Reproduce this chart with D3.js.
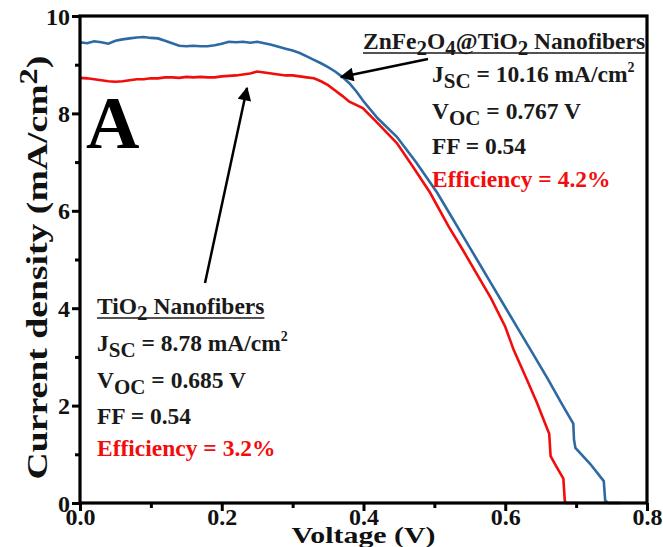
<!DOCTYPE html>
<html>
<head>
<meta charset="utf-8">
<script src="https://cdn.jsdelivr.net/npm/d3@7"></script>
<style>
  body { margin: 0; background: #fff; }
  svg text { font-family: "Liberation Serif", "Times New Roman", serif; font-weight: bold; }
</style>
</head>
<body>
<div id="chart"></div>
<script>
// ZnFe2O4@TiO2 nanofibers (blue)
var blueV = [0.000, 0.010, 0.020, 0.030, 0.040, 0.050, 0.060, 0.070, 0.080, 0.090,
             0.100, 0.110, 0.120, 0.130, 0.140, 0.150, 0.160, 0.170, 0.180, 0.190,
             0.200, 0.210, 0.220, 0.230, 0.240, 0.250, 0.260, 0.270, 0.280, 0.290,
             0.300, 0.310, 0.320, 0.330, 0.340, 0.350, 0.360, 0.370, 0.380, 0.390,
             0.400, 0.420, 0.447, 0.475, 0.504, 0.520, 0.540, 0.560, 0.580, 0.600,
             0.620, 0.636, 0.660, 0.680, 0.696, 0.697, 0.699, 0.720, 0.739, 0.741,
             0.745, 0.763];
var blueJ = [9.46, 9.44, 9.48, 9.46, 9.43, 9.49, 9.52, 9.54, 9.56, 9.57,
             9.55, 9.54, 9.49, 9.44, 9.39, 9.38, 9.39, 9.38, 9.38, 9.40,
             9.43, 9.47, 9.46, 9.47, 9.45, 9.47, 9.44, 9.41, 9.37, 9.33,
             9.29, 9.24, 9.17, 9.10, 9.03, 8.95, 8.86, 8.75, 8.62, 8.45,
             8.25, 7.90, 7.52, 6.98, 6.37, 5.98, 5.49, 5.00, 4.51, 4.02,
             3.53, 3.14, 2.55, 2.03, 1.63, 1.30, 1.13, 0.80, 0.45, 0.05,
             0.00, 0.00];
// TiO2 nanofibers (red)
var redV = [0.000, 0.010, 0.020, 0.030, 0.040, 0.050, 0.060, 0.070, 0.080, 0.090,
            0.100, 0.110, 0.120, 0.130, 0.140, 0.150, 0.160, 0.170, 0.180, 0.190,
            0.200, 0.210, 0.220, 0.230, 0.240, 0.250, 0.260, 0.270, 0.280, 0.290,
            0.300, 0.310, 0.320, 0.330, 0.340, 0.350, 0.360, 0.370, 0.380, 0.399,
            0.420, 0.447, 0.470, 0.494, 0.520, 0.540, 0.560, 0.580, 0.600, 0.612,
            0.630, 0.645, 0.662, 0.664, 0.672, 0.682, 0.684, 0.686, 0.703];
var redJ = [8.73, 8.72, 8.70, 8.68, 8.66, 8.65, 8.66, 8.68, 8.70, 8.70,
            8.72, 8.72, 8.74, 8.74, 8.73, 8.75, 8.74, 8.75, 8.74, 8.74,
            8.76, 8.77, 8.78, 8.80, 8.82, 8.86, 8.84, 8.82, 8.80, 8.78,
            8.78, 8.76, 8.74, 8.72, 8.66, 8.58, 8.47, 8.36, 8.24, 8.11,
            7.80, 7.39, 6.90, 6.37, 5.68, 5.20, 4.70, 4.20, 3.62, 3.14,
            2.55, 2.05, 1.42, 0.96, 0.75, 0.50, 0.05, 0.00, 0.00];

var xMajor = [0.0, 0.2, 0.4, 0.6, 0.8];
var xMinor = [0.1, 0.3, 0.5, 0.7];
var yMajor = [0, 2, 4, 6, 8, 10];
var yMinor = [1, 3, 5, 7, 9];

var width = 663, height = 547;
var margin = { top: 16, right: 16, bottom: 44, left: 80 };

var svg = d3.select("#chart").append("svg")
    .attr("width", width)
    .attr("height", height);

var x = d3.scaleLinear().domain([0, 0.8]).range([margin.left, width - margin.right]);
var y = d3.scaleLinear().domain([0, 10]).range([height - margin.bottom, margin.top]);

// curves
var line = d3.line().x(d => x(d[0])).y(d => y(d[1]));
svg.append("path")
    .datum(d3.zip(redV, redJ))
    .attr("d", line)
    .attr("fill", "none")
    .attr("stroke", "#f20d0d")
    .attr("stroke-width", 2.6);
svg.append("path")
    .datum(d3.zip(blueV, blueJ))
    .attr("d", line)
    .attr("fill", "none")
    .attr("stroke", "#2d6aa3")
    .attr("stroke-width", 2.6);

// axes
var xAxis = svg.append("g")
    .attr("transform", "translate(0," + y(0) + ")")
    .call(d3.axisBottom(x).tickValues(xMajor).tickSize(8).tickFormat(d3.format(".1f")));
svg.append("g")
    .attr("transform", "translate(0," + y(0) + ")")
    .call(d3.axisBottom(x).tickValues(xMinor).tickSize(5).tickFormat(""));
var yAxis = svg.append("g")
    .attr("transform", "translate(" + x(0) + ",0)")
    .call(d3.axisLeft(y).tickValues(yMajor).tickSize(8).tickFormat(d3.format("d")));
svg.append("g")
    .attr("transform", "translate(" + x(0) + ",0)")
    .call(d3.axisLeft(y).tickValues(yMinor).tickSize(5).tickFormat(""));

svg.selectAll(".domain").remove();
svg.selectAll(".tick line").attr("stroke", "#000").attr("stroke-width", 3);
svg.selectAll(".tick text").attr("fill", "#111").style("font-size", "24px");
xAxis.selectAll(".tick text").attr("y", 8).attr("dy", "0.58em");
yAxis.selectAll(".tick text").attr("dy", "0.34em").attr("x", -10);

// frame
svg.append("rect")
    .attr("x", x(0)).attr("y", y(10))
    .attr("width", x(0.8) - x(0)).attr("height", y(0) - y(10))
    .attr("fill", "none").attr("stroke", "#000").attr("stroke-width", 3.2);

// axis titles
svg.append("text")
    .attr("transform", "translate(" + ((x(0) + x(0.8)) / 2) + "," + (height - 4) + ") scale(1.3,0.97)")
    .attr("text-anchor", "middle")
    .style("font-size", "23px")
    .attr("fill", "#111")
    .text("Voltage (V)");

var yl = svg.append("text")
    .attr("transform", "translate(47," + ((y(0) + y(10)) / 2 + 8) + ") rotate(-90) scale(1.3,1)")
    .attr("text-anchor", "middle")
    .style("font-size", "29px")
    .attr("fill", "#111");
yl.append("tspan").text("Current density (mA/cm");
yl.append("tspan").attr("dy", -10).style("font-size", "25px").text("2");
yl.append("tspan").attr("dy", 10).text(")");

// panel letter
svg.append("text")
    .attr("x", 86).attr("y", 148)
    .style("font-size", "74px")
    .attr("fill", "#000")
    .text("A");

// annotation helper
function label(xp, yp, parts, color) {
    var t = svg.append("text").attr("x", xp).attr("y", yp)
        .attr("fill", color || "#1a1a1a").style("font-size", "23.5px");
    parts.forEach(function (p) {
        var s = t.append("tspan").text(p[0]);
        if (p[1] == "sub") s.attr("dy", 6).style("font-size", "21px");
        else if (p[1] == "sup") s.attr("dy", -10).style("font-size", "14px");
        else if (p[1] == "back") s.attr("dy", p[2]);
    });
    return t;
}
function underline(t) {
    var b = t.node().getBBox();
    svg.append("line")
        .attr("x1", b.x).attr("x2", b.x + b.width)
        .attr("y1", +t.attr("y") + 4).attr("y2", +t.attr("y") + 4)
        .attr("stroke", "#1a1a1a").attr("stroke-width", 1.6);
}

var t1 = label(363, 49, [["ZnFe"], ["2", "sub"], ["O", "back", -6], ["4", "sub"], ["@TiO", "back", -6], ["2", "sub"], [" Nanofibers", "back", -6]]);
underline(t1);
label(432, 82, [["J"], ["SC", "sub"], [" = 10.16 mA/cm", "back", -6], ["2", "sup"]]);
label(432, 119, [["V"], ["OC", "sub"], [" = 0.767 V", "back", -6]]);
label(432, 154, [["FF = 0.54"]]);
label(432, 187, [["Efficiency = 4.2%"]], "#f20d0d");

var t2 = label(97, 314, [["TiO"], ["2", "sub"], [" Nanofibers", "back", -6]]);
underline(t2);
label(97, 351, [["J"], ["SC", "sub"], [" = 8.78 mA/cm", "back", -6], ["2", "sup"]]);
label(97, 388, [["V"], ["OC", "sub"], [" = 0.685 V", "back", -6]]);
label(97, 424, [["FF = 0.54"]]);
label(97, 456, [["Efficiency = 3.2%"]], "#f20d0d");

// arrows
svg.append("defs").append("marker")
    .attr("id", "head")
    .attr("viewBox", "0 0 10 10")
    .attr("refX", 9).attr("refY", 5)
    .attr("markerWidth", 7).attr("markerHeight", 5.5)
    .attr("markerUnits", "strokeWidth")
    .attr("orient", "auto")
    .append("path").attr("d", "M0,0 L10,5 L0,10 Z").attr("fill", "#000");

svg.append("line")
    .attr("x1", 428).attr("y1", 59).attr("x2", 341).attr("y2", 77)
    .attr("stroke", "#000").attr("stroke-width", 2.5)
    .attr("marker-end", "url(#head)");
svg.append("line")
    .attr("x1", 205).attr("y1", 283).attr("x2", 247).attr("y2", 88)
    .attr("stroke", "#000").attr("stroke-width", 2.5)
    .attr("marker-end", "url(#head)");
</script>
</body>
</html>
